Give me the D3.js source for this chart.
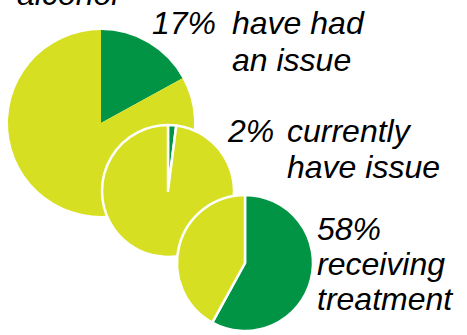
<!DOCTYPE html>
<html>
<head>
<meta charset="utf-8">
<script src="https://cdn.jsdelivr.net/npm/d3@7"></script>
<style>
  body { margin: 0; background: #fff; }
  text { font-family: Arial, "Liberation Sans", sans-serif; font-style: italic; fill: #000; }
</style>
</head>
<body>
<div id="drawing"></div>
<script>
// share of people in each step (green part of each pie)
var steps = ["have had an issue", "currently have issue", "receiving treatment"];
var shares = [17, 2, 58];
var pctLabels = ["17%", "2%", "58%"];
var textLines = [["have had", "an issue"], ["currently", "have issue"], ["receiving", "treatment"]];
var topWord = "alcohol";

var width = 467;
var height = 335;
var green = "#009444";
var yellow = "#D7DF23";

// pie placement
var pies = [
  {cx: 101, cy: 123, r: 93, stroke: 0},
  {cx: 168, cy: 191, r: 66, stroke: 2.5},
  {cx: 245, cy: 263, r: 68, stroke: 2.5}
];

var svg = d3.select("#drawing").append("svg")
  .attr("width", width)
  .attr("height", height);

var pie = d3.pie().sort(null).value(d => d.v);

shares.forEach(function(s, i) {
  var p = pies[i];
  var arc = d3.arc().innerRadius(0).outerRadius(p.r);
  var g = svg.append("g").attr("transform", `translate(${p.cx}, ${p.cy})`);
  var parts = [{v: s, c: green}, {v: 100 - s, c: yellow}];
  g.selectAll("path")
    .data(pie(parts))
    .enter()
    .append("path")
    .attr("d", arc)
    .style("fill", d => d.data.c)
    .style("stroke", p.stroke ? "#fff" : "none")
    .style("stroke-width", p.stroke)
    .style("stroke-linejoin", "round");
});

// labels
var fs = 32;
svg.append("text").attr("x", 17).attr("y", 5).style("font-size", fs + "px").text(topWord);

var labelPos = [
  {px: 152, x: 232, y: 34, dy: 37},
  {px: 228, x: 287, y: 142, dy: 36},
  {px: 317, x: 317, y: 240, dy: 35}
];

labelPos.forEach(function(l, i) {
  svg.append("text").attr("x", l.px).attr("y", l.y).style("font-size", fs + "px").text(pctLabels[i]);
  var off = i < 2 ? 0 : 1;
  textLines[i].forEach(function(t, j) {
    svg.append("text").attr("x", l.x).attr("y", l.y + (j + off) * l.dy).style("font-size", fs + "px").text(t);
  });
});
</script>
</body>
</html>
